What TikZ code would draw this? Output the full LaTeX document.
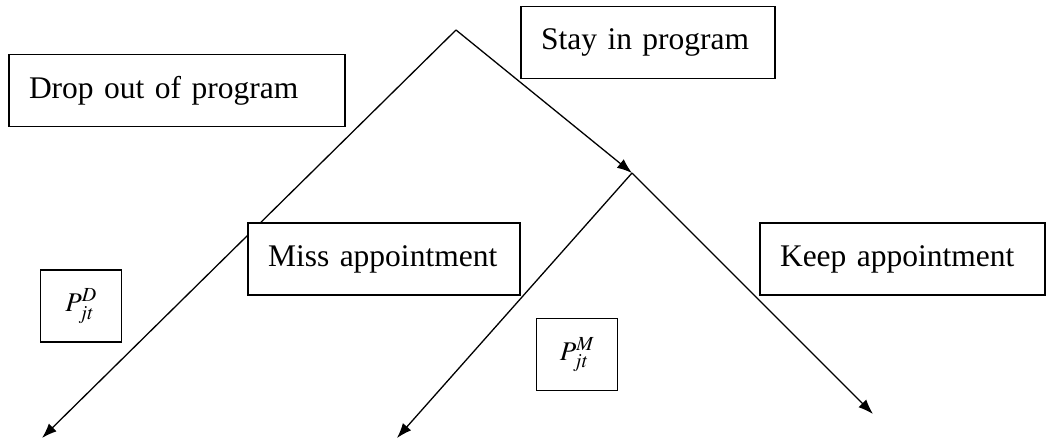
\documentclass[tikz,border=0pt]{standalone}
\usepackage{amsmath}
\usepackage{mathptmx}
\usepackage{fontspec}
\setmainfont{Liberation Serif}
\usepackage{tikz}
\usetikzlibrary{arrows.meta,positioning}

\begin{document}
\begin{tikzpicture}[x=1pt,y=-1pt,
	choice/.style={draw,line width=1.6pt,fill=white,inner xsep=20pt,align=left,
		minimum height=72pt,font=\fontsize{31.5}{36}\selectfont},
	prob/.style={draw,line width=1.6pt,fill=white,minimum width=81pt,minimum height=72pt,
		font=\fontsize{27}{32}\selectfont},
	branch/.style={line width=1.3pt,-{Latex[length=15pt,width=11pt]}}]
	\useasboundingbox (0,0) rectangle (1047,440);
	\coordinate (root) at (456,30);
	\coordinate (stay) at (632,173);
	\coordinate (dropend) at (42,438);
	\coordinate (missend) at (397,438);
	\coordinate (keepend) at (873,414);
	\draw[branch] (root) -- (dropend);
	\draw[branch] (root) -- (stay);
	\draw[branch] (stay) -- (missend);
	\draw[branch] (stay) -- (keepend);
	\node[choice,text width=214pt] at (648,42.5) (s) {Stay in program};
	\node[choice,text width=296pt] at (177,90.5) (d) {Drop out of program};
	\node[choice,text width=232pt] at (384,259) (m) {Miss appointment};
	\node[choice,text width=245pt] at (902.5,259) (k) {Keep appointment};
	\node[prob] at (81,306) (pd) {$P_{jt}^{D}$};
	\node[prob] at (577,354.5) (pm) {$P_{jt}^{M}$};
\end{tikzpicture}
\end{document}
